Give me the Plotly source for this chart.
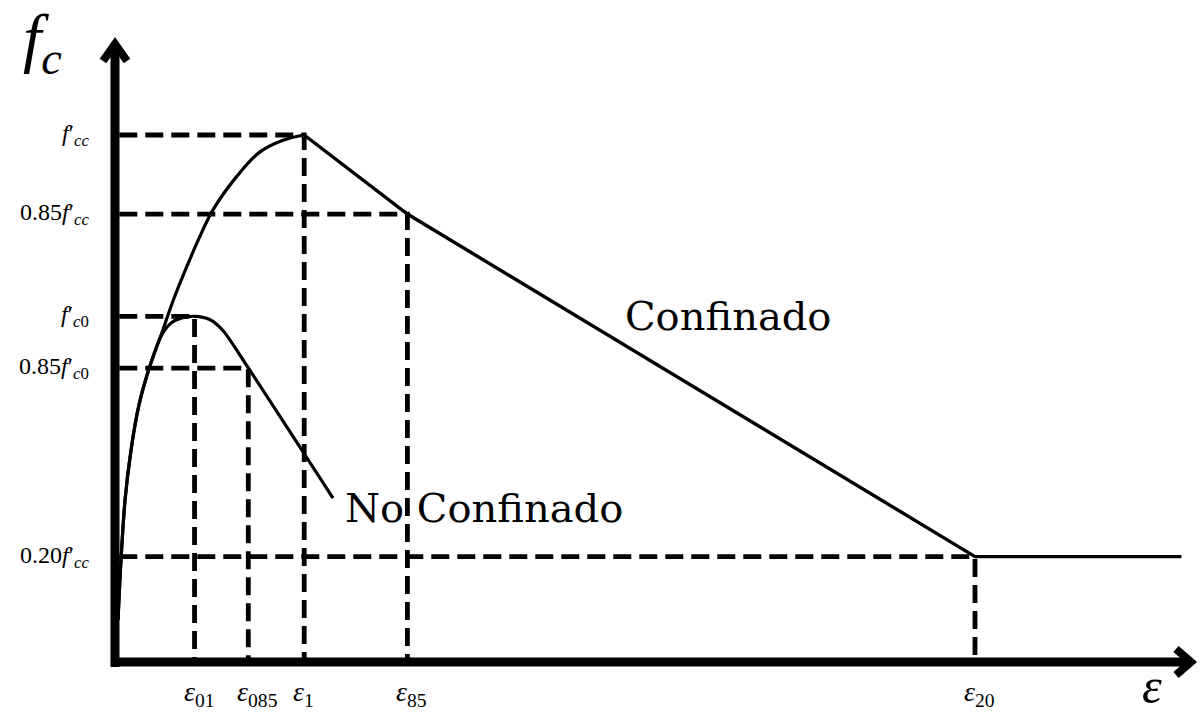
import plotly.graph_objects as go

# ---- strain marks (per-mille) and stress levels (normalised by f'cc) ----
eps_names = ["01", "085", "1", "85", "20"]
eps_marks = [1.85, 3.1, 4.4, 6.8, 20.0]

fcc = 1.0
fc0 = 0.656
level_names = ["f'cc", "0.85f'cc", "f'c0", "0.85f'c0", "0.20f'cc"]
level_values = [fcc, 0.85 * fcc, fc0, 0.85 * fc0, 0.20 * fcc]

# confined concrete: ascending branch up to the peak (eps1, f'cc)
conf_rise_eps = [0.07, 0.14, 0.233, 0.372, 0.558, 0.814, 1.07, 1.349, 1.674, 1.977,
                 2.279, 2.837, 3.372, 3.907, 4.4]
conf_rise_fc = [0.080, 0.194, 0.307, 0.402, 0.488, 0.562, 0.620, 0.685, 0.751, 0.808,
                0.858, 0.922, 0.968, 0.990, 1.0]
# confined concrete: descending branch and residual plateau
conf_fall_eps = [4.4, 6.8, 20.0, 24.8]
conf_fall_fc = [1.0, 0.85, 0.20, 0.20]

# unconfined concrete curve
unc_eps = [0.07, 0.14, 0.233, 0.372, 0.558, 0.814, 1.07, 1.3, 1.55, 1.85, 2.2, 2.5, 3.1, 5.07]
unc_fc = [0.080, 0.194, 0.307, 0.402, 0.488, 0.562, 0.618, 0.643, 0.653, 0.656, 0.65, 0.63,
          0.558, 0.311]

# ---- scales: pixels per unit ----
W, H = 1204, 720
X0_PX, Y0_PX = 115, 662          # where the axes cross
SX, SY = 43.0, 527.0


def px_x(p):
    return (p - X0_PX) / SX


def px_y(p):
    return (Y0_PX - p) / SY


MATH = "Liberation Serif"
TEXT = "DejaVu Serif"
INK = "#000000"

fig = go.Figure()

# dashed guide lines: horizontal from the f axis, vertical down to the eps axis
guides = [
    (eps_marks[2], level_values[0]),
    (eps_marks[3], level_values[1]),
    (eps_marks[0], level_values[2]),
    (eps_marks[1], level_values[3]),
    (eps_marks[4], level_values[4]),
]
for ex, lv in guides:
    fig.add_trace(go.Scatter(
        x=[0.1, ex, ex], y=[lv, lv, 0.0], mode="lines",
        line=dict(color=INK, width=4.8, dash="18px,8px"),
        hoverinfo="skip", showlegend=False,
    ))

fig.add_trace(go.Scatter(
    x=conf_rise_eps, y=conf_rise_fc, mode="lines",
    line=dict(color=INK, width=3.2, shape="spline", smoothing=1.0),
    showlegend=False, hoverinfo="skip",
))
fig.add_trace(go.Scatter(
    x=conf_fall_eps, y=conf_fall_fc, mode="lines",
    line=dict(color=INK, width=3.4),
    showlegend=False, hoverinfo="skip",
))
fig.add_trace(go.Scatter(
    x=unc_eps, y=unc_fc, mode="lines",
    line=dict(color=INK, width=3.2, shape="spline", smoothing=0.8),
    showlegend=False, hoverinfo="skip",
))

# axes with open arrow heads
shapes = [
    dict(type="line", x0=0, x1=0, y0=px_y(667), y1=px_y(48),
         line=dict(color=INK, width=9)),
    dict(type="line", x0=px_x(111), x1=px_x(1192), y0=0, y1=0,
         line=dict(color=INK, width=9)),
    dict(type="path",
         path=f"M {px_x(103)},{px_y(61)} L 0,{px_y(44)} L {px_x(127)},{px_y(61)}",
         line=dict(color=INK, width=8)),
    dict(type="path",
         path=f"M {px_x(1176)},{px_y(649)} L {px_x(1191)},0 L {px_x(1176)},{px_y(675)}",
         line=dict(color=INK, width=8)),
]


def fmath(name):
    # "0.85f'cc" -> 0.85 f′ with subscript
    coef, rest = name.split("f'")
    sub = "".join(f"<i>{c}</i>" if c.isalpha() else c for c in rest)
    return f"{coef}<i>f</i>′<sub>{sub}</sub>"


annotations = []
for name, lv in zip(level_names, level_values):
    annotations.append(dict(
        x=px_x(91), y=lv, text=fmath(name), showarrow=False,
        xanchor="right", yanchor="middle",
        font=dict(family=MATH, size=24, color=INK),
    ))

for name, ex in zip(eps_names, eps_marks):
    annotations.append(dict(
        x=ex, y=px_y(693), text=f"<i>ε</i><sub>{name}</sub>", showarrow=False,
        xanchor="left", yanchor="middle", xshift=-13,
        font=dict(family=MATH, size=28, color=INK),
    ))

annotations += [
    dict(x=px_x(21), y=px_y(42), text="<i>f</i><sub><i>c</i></sub>", showarrow=False,
         xanchor="left", yanchor="middle", font=dict(family=MATH, size=66, color=INK)),
    dict(x=px_x(1152), y=px_y(686), text="<i>ε</i>", showarrow=False,
         xanchor="center", yanchor="middle", font=dict(family=MATH, size=50, color=INK)),
    dict(x=px_x(623), y=px_y(316), text="Confinado", showarrow=False,
         xanchor="left", yanchor="middle", font=dict(family=TEXT, size=40, color=INK)),
    dict(x=px_x(343), y=px_y(508), text="No Confinado", showarrow=False,
         xanchor="left", yanchor="middle", font=dict(family=TEXT, size=40, color=INK)),
]

fig.update_layout(
    width=W, height=H,
    margin=dict(l=0, r=0, t=0, b=0),
    paper_bgcolor="white", plot_bgcolor="white",
    xaxis=dict(range=[px_x(0), px_x(W)], visible=False, fixedrange=True),
    yaxis=dict(range=[px_y(H), px_y(0)], visible=False, fixedrange=True),
    shapes=shapes,
    annotations=annotations,
    showlegend=False,
)

fig.write_html("out.html", config={"displayModeBar": False})
